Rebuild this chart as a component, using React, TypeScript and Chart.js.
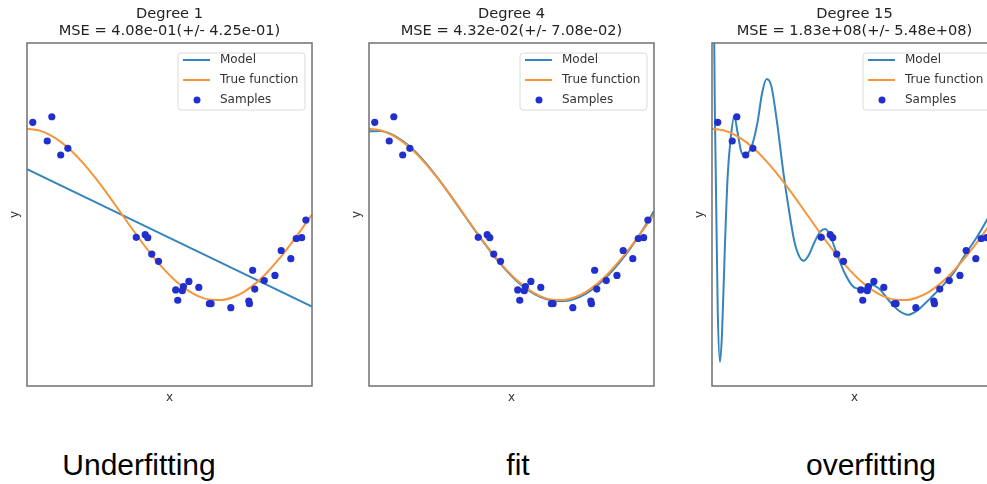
import React, { useEffect, useRef } from "react";
import { Chart, registerables } from "chart.js";

Chart.register(...registerables);

// ---------- data ----------
const sampleX = [0.0202, 0.071, 0.0871, 0.1183, 0.1434, 0.3834, 0.4147, 0.4237, 0.4376, 0.4615, 0.5218, 0.5289, 0.5449, 0.5488, 0.568, 0.6028, 0.6399, 0.6459, 0.7152, 0.7782, 0.7805, 0.7917, 0.7992, 0.8326, 0.87, 0.8918, 0.9256, 0.9447, 0.9637, 0.9786];
const sampleY = [1.075, 0.857, 1.14, 0.694, 0.772, -0.266, -0.235, -0.27, -0.461, -0.546, -0.88, -1.0, -0.888, -0.84, -0.78, -0.85, -1.04, -1.04, -1.087, -1.01, -1.04, -0.65, -0.87, -0.77, -0.71, -0.42, -0.515, -0.28, -0.27, -0.064];

const trueX = [0, 0.04, 0.08, 0.12, 0.16, 0.2, 0.24, 0.28, 0.32, 0.36, 0.4, 0.44, 0.48, 0.52, 0.56, 0.6, 0.64, 0.68, 0.72, 0.76, 0.8, 0.84, 0.88, 0.92, 0.96, 1.0];
const trueY = [1.0, 0.9823, 0.9298, 0.8443, 0.729, 0.5878, 0.4258, 0.2487, 0.0628, -0.1253, -0.309, -0.4818, -0.6374, -0.7705, -0.8763, -0.9511, -0.9921, -0.998, -0.9686, -0.9048, -0.809, -0.6845, -0.5358, -0.3681, -0.1874, 0.0];

const model1X = [0, 1];
const model1Y = [0.53, -1.075];

const model4X = [0, 0.04, 0.08, 0.12, 0.16, 0.2, 0.24, 0.28, 0.32, 0.36, 0.4, 0.44, 0.48, 0.52, 0.56, 0.6, 0.64, 0.68, 0.72, 0.76, 0.8, 0.84, 0.88, 0.92, 0.96, 1.0];
const model4Y = [0.97, 0.975, 0.935, 0.855, 0.74, 0.595, 0.43, 0.25, 0.06, -0.13, -0.315, -0.49, -0.645, -0.78, -0.885, -0.96, -1.0, -1.01, -0.985, -0.925, -0.83, -0.705, -0.555, -0.38, -0.18, 0.04];

const model15X = [0.0, 0.01, 0.02, 0.028, 0.035, 0.045, 0.055, 0.066, 0.078, 0.09, 0.102, 0.112, 0.125, 0.14, 0.16, 0.176, 0.192, 0.208, 0.228, 0.25, 0.27, 0.29, 0.308, 0.322, 0.34, 0.36, 0.38, 0.398, 0.415, 0.435, 0.465, 0.495, 0.525, 0.555, 0.585, 0.62, 0.655, 0.688, 0.72, 0.75, 0.78, 0.81, 0.85, 0.89, 0.93, 0.965, 1.0];
const model15Y = [5.0, 1.2, -1.1, -1.72, -1.4, -0.4, 0.45, 0.9, 1.15, 0.95, 0.74, 0.69, 0.71, 0.8, 1.08, 1.42, 1.58, 1.5, 1.08, 0.5, 0.05, -0.33, -0.5, -0.54, -0.47, -0.32, -0.2, -0.17, -0.25, -0.43, -0.68, -0.84, -0.87, -0.82, -0.86, -1.0, -1.12, -1.17, -1.12, -1.03, -0.93, -0.83, -0.67, -0.46, -0.26, -0.06, 0.16];

const titleLines = [
  ["Degree 1", "MSE = 4.08e-01(+/- 4.25e-01)"],
  ["Degree 4", "MSE = 4.32e-02(+/- 7.08e-02)"],
  ["Degree 15", "MSE = 1.83e+08(+/- 5.48e+08)"],
];
const bottomLabels = ["Underfitting", "fit", "overfitting"];
const legendLabels = ["Model", "True function", "Samples"];

const modelXs = [model1X, model4X, model15X];
const modelYs = [model1Y, model4Y, model15Y];

// ---------- styles ----------
const MODEL_COLOR = "#3585bb";
const TRUE_COLOR = "#f5953c";
const SAMPLE_COLOR = "#2130cc";
const FRAME_COLOR = "#707070";
const FONT = "DejaVu Sans";

const toPts = (xs: number[], ys: number[]) => xs.map((x, i) => ({ x, y: ys[i] }));

const frameLegendPlugin = {
  id: "frameLegend",
  afterDatasetsDraw(chart: any) {
    const { ctx, chartArea: a } = chart;
    ctx.save();
    ctx.strokeStyle = FRAME_COLOR;
    ctx.lineWidth = 1.5;
    ctx.strokeRect(a.left, a.top, a.right - a.left, a.bottom - a.top);

    // legend inside upper right
    const w = 127;
    const h = 57;
    const bx = a.right - 7 - w;
    const by = a.top + 10;
    ctx.beginPath();
    const r = 3;
    ctx.moveTo(bx + r, by);
    ctx.lineTo(bx + w - r, by);
    ctx.quadraticCurveTo(bx + w, by, bx + w, by + r);
    ctx.lineTo(bx + w, by + h - r);
    ctx.quadraticCurveTo(bx + w, by + h, bx + w - r, by + h);
    ctx.lineTo(bx + r, by + h);
    ctx.quadraticCurveTo(bx, by + h, bx, by + h - r);
    ctx.lineTo(bx, by + r);
    ctx.quadraticCurveTo(bx, by, bx + r, by);
    ctx.closePath();
    ctx.fillStyle = "rgba(255,255,255,0.85)";
    ctx.fill();
    ctx.strokeStyle = "#dcdcdc";
    ctx.lineWidth = 1;
    ctx.stroke();

    ctx.font = `12px "${FONT}"`;
    ctx.textBaseline = "middle";
    ctx.textAlign = "left";
    legendLabels.forEach((label, i) => {
      const yy = by + 7 + i * 20;
      if (i < 2) {
        ctx.strokeStyle = i === 0 ? MODEL_COLOR : TRUE_COLOR;
        ctx.lineWidth = 2;
        ctx.beginPath();
        ctx.moveTo(bx + 5, yy);
        ctx.lineTo(bx + 32, yy);
        ctx.stroke();
      } else {
        ctx.fillStyle = SAMPLE_COLOR;
        ctx.beginPath();
        ctx.arc(bx + 19, yy, 3.5, 0, Math.PI * 2);
        ctx.fill();
      }
      ctx.fillStyle = "#333";
      ctx.fillText(label, bx + 42, yy);
    });
    ctx.restore();
  },
};

function Panel({ idx, left }: { idx: number; left: number }) {
  const ref = useRef<HTMLCanvasElement>(null);
  useEffect(() => {
    const chart = new Chart(ref.current as HTMLCanvasElement, {
      type: "scatter",
      data: {
        datasets: [
          {
            label: legendLabels[2],
            data: toPts(sampleX, sampleY),
            backgroundColor: SAMPLE_COLOR,
            borderColor: SAMPLE_COLOR,
            pointRadius: 3.6,
            pointBorderWidth: 0,
            showLine: false,
            order: 0,
          },
          {
            label: legendLabels[1],
            data: toPts(trueX, trueY),
            borderColor: TRUE_COLOR,
            borderWidth: 2,
            pointRadius: 0,
            showLine: true,
            cubicInterpolationMode: "monotone",
            order: 1,
          },
          {
            label: legendLabels[0],
            data: toPts(modelXs[idx], modelYs[idx]),
            borderColor: MODEL_COLOR,
            borderWidth: 2,
            pointRadius: 0,
            showLine: true,
            cubicInterpolationMode: "monotone",
            order: 2,
          },
        ] as any,
      },
      options: {
        animation: false,
        responsive: false,
        devicePixelRatio: 1,
        events: [],
        layout: { padding: { left: 0, right: 18, top: 0, bottom: 10.8 } },
        plugins: {
          legend: { display: false },
          tooltip: { enabled: false },
          title: {
            display: true,
            text: titleLines[idx],
            fullSize: false,
            color: "#222",
            font: { family: FONT, size: 14.6, weight: "normal", lineHeight: 1.2 },
            padding: { top: 5.24, bottom: 2.72 },
          },
        },
        scales: {
          x: {
            type: "linear",
            min: 0,
            max: 1,
            ticks: { display: false },
            grid: { display: false, drawTicks: false },
            border: { display: false },
            title: {
              display: true,
              text: "x",
              color: "#333",
              font: { family: FONT, size: 12, lineHeight: 1.2 },
              padding: { top: 4.8, bottom: 4 },
            },
          },
          y: {
            type: "linear",
            min: -2,
            max: 2,
            ticks: { display: false },
            grid: { display: false, drawTicks: false },
            border: { display: false },
            title: {
              display: true,
              text: "y",
              color: "#333",
              font: { family: FONT, size: 12, lineHeight: 1.2 },
              padding: { top: 7.8, bottom: 4.8 },
            },
          },
        },
      } as any,
      plugins: [frameLegendPlugin],
    });
    return () => chart.destroy();
  }, [idx]);
  return (
    <canvas
      ref={ref}
      width={330}
      height={420}
      style={{ position: "absolute", left, top: 0, width: 330, height: 420 }}
    />
  );
}

const panelLefts = [0, 342, 685];
const labelCenters = [139, 518, 871];

export default function App() {
  return (
    <div
      style={{
        position: "fixed",
        left: 0,
        top: 0,
        width: 987,
        height: 484,
        overflow: "hidden",
        background: "#fff",
      }}
    >
      {panelLefts.map((l, i) => (
        <Panel key={i} idx={i} left={l} />
      ))}
      {bottomLabels.map((t, i) => (
        <div
          key={t}
          style={{
            position: "absolute",
            left: labelCenters[i] - 150,
            width: 300,
            top: 450,
            textAlign: "center",
            fontFamily: '"Liberation Sans", Arial, sans-serif',
            fontSize: 30,
            lineHeight: "30px",
            color: "#000",
          }}
        >
          {t}
        </div>
      ))}
    </div>
  );
}
